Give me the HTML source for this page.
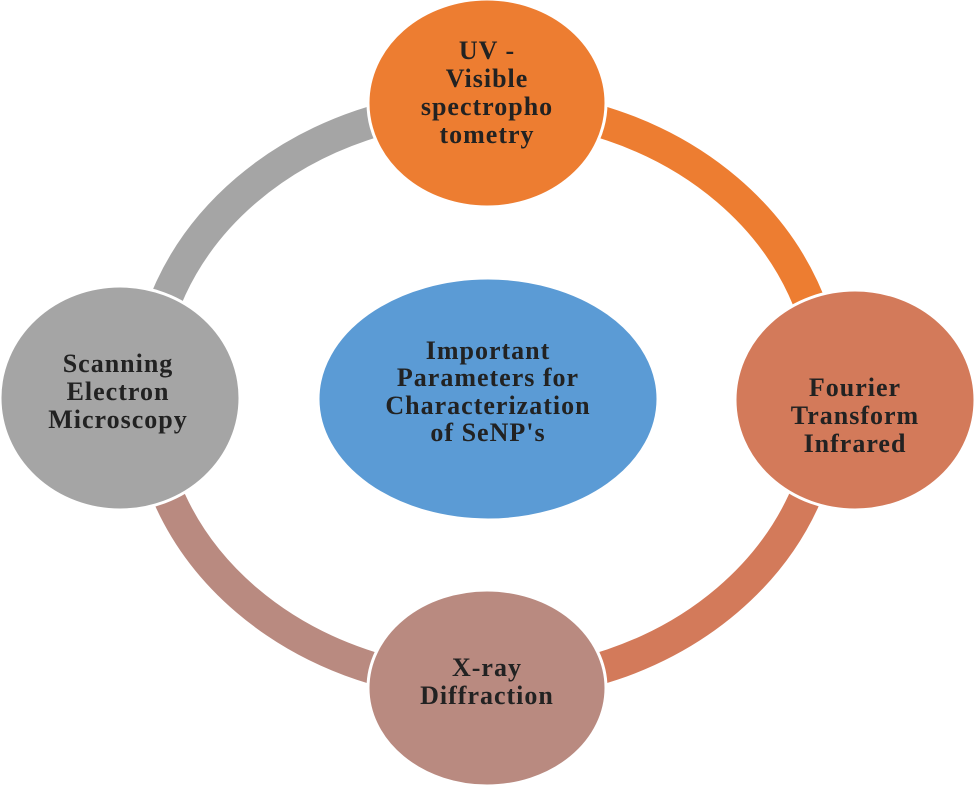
<!DOCTYPE html>
<html><head><meta charset="utf-8"><style>
html,body{margin:0;padding:0;background:#fff;}
svg{display:block;}
text{font-family:"Liberation Serif",serif;font-weight:bold;font-size:26px;letter-spacing:1px;fill:#222;text-anchor:middle;}
</style></head><body>
<svg width="975" height="785" viewBox="0 0 975 785" xmlns="http://www.w3.org/2000/svg">
<g fill="none" stroke-width="32">
<path d="M147 395 A340 290 0 0 1 487 105" stroke="#a5a5a5"/>
<path d="M487 105 A340 290 0 0 1 827 395" stroke="#ed7d31"/>
<path d="M827 395 A340 290 0 0 1 487 685" stroke="#d37a5a"/>
<path d="M487 685 A340 290 0 0 1 147 395" stroke="#b98a80"/>
</g>
<g stroke="#fff" stroke-width="3">
<ellipse cx="487" cy="103" rx="119" ry="104" fill="#ed7d31"/>
<ellipse cx="855" cy="400" rx="120" ry="110" fill="#d37a5a"/>
<ellipse cx="487" cy="688" rx="119" ry="98" fill="#b98a80"/>
<ellipse cx="120" cy="398" rx="120" ry="112" fill="#a5a5a5"/>
<ellipse cx="488" cy="399" rx="170" ry="121" fill="#5b9bd5"/>
</g>
<text x="487" y="59">UV -</text>
<text x="487" y="87">Visible</text>
<text x="487" y="115">spectropho</text>
<text x="487" y="143">tometry</text>
<text x="855" y="396">Fourier</text>
<text x="855" y="424">Transform</text>
<text x="855" y="452">Infrared</text>
<text x="487" y="676">X-ray</text>
<text x="487" y="704">Diffraction</text>
<text x="118" y="372">Scanning</text>
<text x="118" y="400">Electron</text>
<text x="118" y="428">Microscopy</text>
<text x="488" y="359">Important</text>
<text x="488" y="386">Parameters for</text>
<text x="488" y="414">Characterization</text>
<text x="488" y="441">of SeNP's</text>
</svg>
</body></html>
